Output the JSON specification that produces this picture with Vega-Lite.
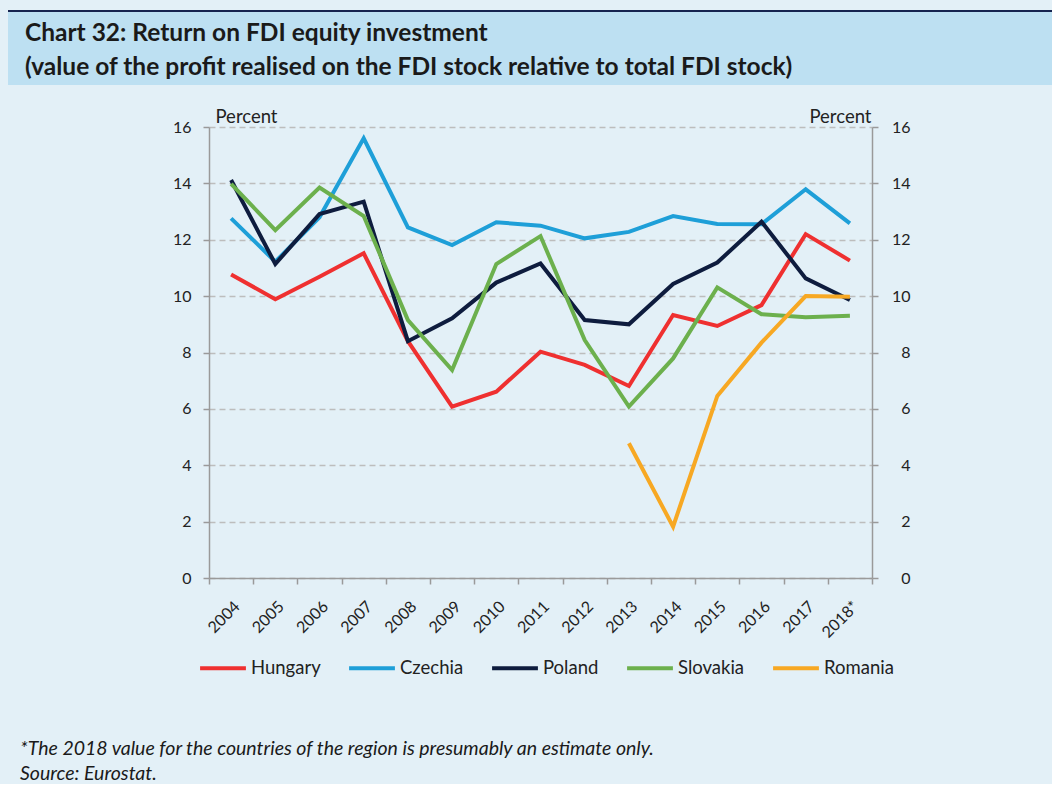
{
  "$schema": "https://vega.github.io/schema/vega-lite/v6.json",
  "background": "#e3f0f7",
  "padding": {"left": 8, "top": 10, "right": 0, "bottom": 0},
  "config": {"font": "Lato", "view": {"stroke": null}},
  "title": {
    "text": ["*The 2018 value for the countries of the region is presumably an estimate only.", "Source: Eurostat."],
    "orient": "bottom", "anchor": "start", "dx": 12, "offset": 77, "baseline": "alphabetic",
    "fontSize": 19.5, "fontStyle": "italic", "fontWeight": "normal", "color": "#1a1a1a", "lineHeight": 25, "font": "Lato"
  },
  "spacing": 22,
  "resolve": {"legend": {"color": "independent"}},
  "vconcat": [
    {
      "spacing": 0,
      "vconcat": [
        {"width": 1044, "height": 2, "view": {"fill": "#16244f", "stroke": null}, "data": {"values": []}, "mark": "text", "encoding": {}},
        {
          "width": 1044, "height": 73, "view": {"fill": "#bde0f2", "stroke": null},
          "data": {"values": []}, "mark": "text", "encoding": {},
          "title": {
            "text": ["Chart 32: Return on FDI equity investment", "(value of the profit realised on the FDI stock relative to total FDI stock)"],
            "orient": "bottom", "anchor": "start", "dx": 17, "offset": -44, "baseline": "alphabetic",
            "fontSize": 24.5, "fontWeight": "bold", "color": "#1a1a1a", "lineHeight": 34, "font": "Lato"
          }
        }
      ]
    },
    {
      "spacing": 0,
      "resolve": {"legend": {"color": "independent"}},
      "hconcat": [
        {"width": 164, "height": 10, "view": {"fill": "#e3f0f7", "stroke": null}, "data": {"values": []}, "mark": "text", "encoding": {}},
        {
          "width": 663,
          "height": 451,
          "data": {"values": [
            {"country": "Hungary", "year": "2004", "value": 10.77},
            {"country": "Hungary", "year": "2005", "value": 9.89},
            {"country": "Hungary", "year": "2006", "value": 10.69},
            {"country": "Hungary", "year": "2007", "value": 11.52},
            {"country": "Hungary", "year": "2008", "value": 8.4},
            {"country": "Hungary", "year": "2009", "value": 6.08},
            {"country": "Hungary", "year": "2010", "value": 6.61},
            {"country": "Hungary", "year": "2011", "value": 8.03},
            {"country": "Hungary", "year": "2012", "value": 7.56},
            {"country": "Hungary", "year": "2013", "value": 6.81},
            {"country": "Hungary", "year": "2014", "value": 9.33},
            {"country": "Hungary", "year": "2015", "value": 8.94},
            {"country": "Hungary", "year": "2016", "value": 9.68},
            {"country": "Hungary", "year": "2017", "value": 12.2},
            {"country": "Hungary", "year": "2018*", "value": 11.26},
            {"country": "Czechia", "year": "2004", "value": 12.76},
            {"country": "Czechia", "year": "2005", "value": 11.22},
            {"country": "Czechia", "year": "2006", "value": 12.8},
            {"country": "Czechia", "year": "2007", "value": 15.6},
            {"country": "Czechia", "year": "2008", "value": 12.44},
            {"country": "Czechia", "year": "2009", "value": 11.81},
            {"country": "Czechia", "year": "2010", "value": 12.62},
            {"country": "Czechia", "year": "2011", "value": 12.5},
            {"country": "Czechia", "year": "2012", "value": 12.05},
            {"country": "Czechia", "year": "2013", "value": 12.28},
            {"country": "Czechia", "year": "2014", "value": 12.84},
            {"country": "Czechia", "year": "2015", "value": 12.56},
            {"country": "Czechia", "year": "2016", "value": 12.55},
            {"country": "Czechia", "year": "2017", "value": 13.79},
            {"country": "Czechia", "year": "2018*", "value": 12.58},
            {"country": "Poland", "year": "2004", "value": 14.12},
            {"country": "Poland", "year": "2005", "value": 11.14},
            {"country": "Poland", "year": "2006", "value": 12.91},
            {"country": "Poland", "year": "2007", "value": 13.35},
            {"country": "Poland", "year": "2008", "value": 8.4},
            {"country": "Poland", "year": "2009", "value": 9.21},
            {"country": "Poland", "year": "2010", "value": 10.48},
            {"country": "Poland", "year": "2011", "value": 11.16},
            {"country": "Poland", "year": "2012", "value": 9.15},
            {"country": "Poland", "year": "2013", "value": 9.0},
            {"country": "Poland", "year": "2014", "value": 10.43},
            {"country": "Poland", "year": "2015", "value": 11.19},
            {"country": "Poland", "year": "2016", "value": 12.64},
            {"country": "Poland", "year": "2017", "value": 10.63},
            {"country": "Poland", "year": "2018*", "value": 9.86},
            {"country": "Slovakia", "year": "2004", "value": 13.98},
            {"country": "Slovakia", "year": "2005", "value": 12.34},
            {"country": "Slovakia", "year": "2006", "value": 13.85},
            {"country": "Slovakia", "year": "2007", "value": 12.84},
            {"country": "Slovakia", "year": "2008", "value": 9.15},
            {"country": "Slovakia", "year": "2009", "value": 7.38},
            {"country": "Slovakia", "year": "2010", "value": 11.14},
            {"country": "Slovakia", "year": "2011", "value": 12.13},
            {"country": "Slovakia", "year": "2012", "value": 8.44},
            {"country": "Slovakia", "year": "2013", "value": 6.08},
            {"country": "Slovakia", "year": "2014", "value": 7.79},
            {"country": "Slovakia", "year": "2015", "value": 10.31},
            {"country": "Slovakia", "year": "2016", "value": 9.36},
            {"country": "Slovakia", "year": "2017", "value": 9.25},
            {"country": "Slovakia", "year": "2018*", "value": 9.3},
            {"country": "Romania", "year": "2013", "value": 4.78},
            {"country": "Romania", "year": "2014", "value": 1.82},
            {"country": "Romania", "year": "2015", "value": 6.46},
            {"country": "Romania", "year": "2016", "value": 8.35},
            {"country": "Romania", "year": "2017", "value": 10.0},
            {"country": "Romania", "year": "2018*", "value": 9.98}
          ]},
          "encoding": {
            "x": {
              "field": "year", "type": "ordinal",
              "sort": ["2004","2005","2006","2007","2008","2009","2010","2011","2012","2013","2014","2015","2016","2017","2018*"],
              "axis": {
                "title": null, "labelAngle": -45, "labelFontSize": 16, "labelColor": "#222",
                "tickBand": "extent", "domainColor": "#9a9a9a", "tickColor": "#9a9a9a", "tickSize": 6,
                "domainWidth": 1.5, "tickWidth": 1.5, "grid": false, "labelPadding": 14
              }
            },
            "color": {
              "field": "country", "type": "nominal",
              "scale": {
                "domain": ["Hungary", "Czechia", "Poland", "Slovakia", "Romania"],
                "range": ["#ef3030", "#1e9fd8", "#0e1c3e", "#6cb04d", "#f7a823"]
              },
              "legend": {
                "orient": "none", "legendX": -11, "legendY": 516, "direction": "horizontal", "title": null,
                "symbolType": "stroke", "symbolSize": 2100, "symbolStrokeWidth": 4, "symbolOpacity": 1,
                "labelFontSize": 18.5, "labelColor": "#222", "columnPadding": 20, "labelOffset": 3
              }
            }
          },
          "layer": [
            {
              "mark": {"type": "line", "strokeWidth": 4, "strokeJoin": "miter"},
              "encoding": {
                "y": {
                  "field": "value", "type": "quantitative", "scale": {"domain": [0, 16]},
                  "axis": {
                    "orient": "left", "values": [0, 2, 4, 6, 8, 10, 12, 14, 16],
                    "title": "Percent", "titleAngle": 0, "titleX": 6, "titleY": -5, "titleAlign": "left",
                    "titleBaseline": "alphabetic", "titleFontSize": 18.5, "titleFontWeight": "normal", "titleColor": "#222",
                    "labelFontSize": 16, "labelColor": "#222", "labelPadding": 12,
                    "tickSize": 6, "tickColor": "#9a9a9a", "tickWidth": 1.5, "domainColor": "#9a9a9a", "domainWidth": 1.5,
                    "grid": true, "gridColor": "#bdbdbd", "gridDash": [6, 4], "gridWidth": 1.5
                  }
                }
              }
            },
            {
              "mark": {"type": "line", "strokeWidth": 4, "opacity": 0},
              "encoding": {
                "y": {
                  "field": "value", "type": "quantitative", "scale": {"domain": [0, 16]},
                  "axis": {
                    "orient": "right", "values": [0, 2, 4, 6, 8, 10, 12, 14, 16],
                    "title": "Percent", "titleAngle": 0, "titleX": -1, "titleY": -5, "titleAlign": "right",
                    "titleBaseline": "alphabetic", "titleFontSize": 18.5, "titleFontWeight": "normal", "titleColor": "#222",
                    "labelFontSize": 16, "labelColor": "#222", "labelPadding": 32, "labelAlign": "right",
                    "tickSize": 6, "tickColor": "#9a9a9a", "tickWidth": 1.5, "domainColor": "#9a9a9a", "domainWidth": 1.5,
                    "grid": false
                  }
                }
              }
            }
          ],
          "resolve": {"axis": {"y": "independent"}}
        }
      ]
    }
  ]
}
